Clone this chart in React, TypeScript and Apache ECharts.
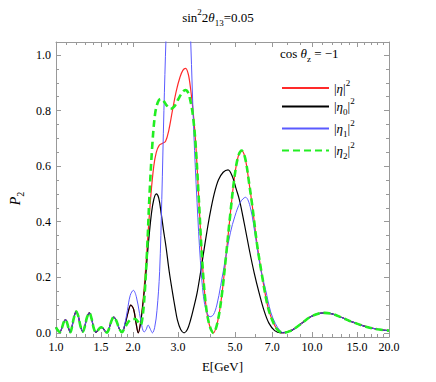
import React, { useEffect, useRef } from 'react';
import * as echarts from 'echarts';

const X_MAJOR = [1, 1.5, 2, 3, 5, 7, 10, 15, 20];
const X_MINOR = [1.1, 1.2, 1.3, 1.4, 1.6, 1.7, 1.8, 1.9, 4, 6, 8, 9, 11, 12, 13, 14, 16, 17, 18, 19];
const Y_MAJOR = [0, 0.2, 0.4, 0.6, 0.8, 1.0];
const Y_MINOR = [0.05, 0.1, 0.15, 0.25, 0.3, 0.35, 0.45, 0.5, 0.55, 0.65, 0.7, 0.75, 0.85, 0.9, 0.95];

// shared low-energy part (all curves coincide)
const E_LOW = [1.0, 1.017, 1.035, 1.055, 1.072, 1.089, 1.105, 1.12, 1.138, 1.155, 1.175, 1.2, 1.222, 1.248, 1.273, 1.295, 1.322, 1.35, 1.378, 1.405, 1.431, 1.455, 1.48, 1.505, 1.53, 1.555, 1.581, 1.61, 1.645, 1.682, 1.72, 1.765, 1.81];
const P_LOW = [0.02, 0.009, 0.003, 0.018, 0.038, 0.048, 0.036, 0.016, 0.002, 0.022, 0.055, 0.077, 0.06, 0.022, 0.004, 0.022, 0.056, 0.072, 0.05, 0.016, 0.002, 0.008, 0.017, 0.02, 0.015, 0.006, 0.001, 0.014, 0.042, 0.057, 0.044, 0.016, 0.002];

// |eta|^2
const E_RED = [1.86, 1.91, 1.96, 2.01, 2.055, 2.096, 2.14, 2.19, 2.24, 2.29, 2.35, 2.41, 2.465, 2.53, 2.6, 2.68, 2.76, 2.85, 2.95, 3.05, 3.13, 3.21, 3.29, 3.36, 3.43, 3.51, 3.61, 3.72, 3.84, 3.97, 4.12, 4.28, 4.45, 4.62, 4.8, 4.98, 5.15, 5.31, 5.48, 5.68, 5.86, 6.1, 6.4, 6.7, 7.0, 7.35, 7.75];
const P_RED = [0.03, 0.072, 0.1, 0.085, 0.035, 0.0, 0.04, 0.12, 0.23, 0.36, 0.5, 0.6, 0.65, 0.675, 0.682, 0.69, 0.73, 0.8, 0.87, 0.92, 0.945, 0.952, 0.93, 0.875, 0.8, 0.69, 0.49, 0.27, 0.11, 0.03, 0.0, 0.04, 0.14, 0.28, 0.43, 0.56, 0.635, 0.656, 0.63, 0.54, 0.45, 0.32, 0.2, 0.1, 0.045, 0.01, 0.0];

// |eta0|^2
const E_BLACK = [1.86, 1.91, 1.96, 2.01, 2.055, 2.096, 2.14, 2.19, 2.24, 2.29, 2.36, 2.41, 2.465, 2.52, 2.576, 2.63, 2.69, 2.77, 2.855, 2.92, 2.98, 3.07, 3.165, 3.26, 3.357, 3.45, 3.557, 3.66, 3.77, 3.88, 4.0, 4.15, 4.31, 4.5, 4.7, 4.9, 5.05, 5.21, 5.45, 5.69, 5.95, 6.22, 6.5, 6.79, 7.15, 7.55];
const P_BLACK = [0.03, 0.072, 0.1, 0.085, 0.035, 0.0, 0.035, 0.11, 0.2, 0.31, 0.43, 0.48, 0.5, 0.485, 0.43, 0.37, 0.31, 0.22, 0.143, 0.09, 0.047, 0.012, 0.0, 0.012, 0.047, 0.09, 0.143, 0.21, 0.287, 0.36, 0.43, 0.5, 0.55, 0.578, 0.587, 0.56, 0.52, 0.478, 0.39, 0.3, 0.215, 0.143, 0.08, 0.035, 0.008, 0.0];

// |eta1|^2
const E_BLUE = [1.85, 1.9, 1.95, 2.006, 2.06, 2.12, 2.17, 2.21, 2.25, 2.29, 2.34, 2.38, 2.43, 2.48, 2.54, 2.59, 2.64, 2.69, 2.76, 2.9, 3.05, 3.2, 3.3, 3.36, 3.455, 3.557, 3.665, 3.77, 3.88, 4.0, 4.12, 4.25, 4.4, 4.6, 4.8, 5.0, 5.25, 5.5, 5.75, 6.04, 6.3, 6.59, 6.9, 7.2, 7.5, 7.75];
const P_BLUE = [0.025, 0.08, 0.135, 0.153, 0.13, 0.07, 0.02, 0.003, 0.012, 0.028, 0.012, 0.0, 0.02, 0.08, 0.22, 0.48, 0.8, 1.06, 1.35, 1.75, 1.85, 1.6, 1.25, 1.05, 0.72, 0.47, 0.26, 0.13, 0.075, 0.058, 0.065, 0.1, 0.17, 0.27, 0.36, 0.42, 0.47, 0.488, 0.45, 0.335, 0.23, 0.155, 0.075, 0.033, 0.008, 0.0];

// |eta2|^2
const E_GREEN = [1.86, 1.92, 1.98, 2.04, 2.09, 2.14, 2.18, 2.22, 2.27, 2.32, 2.38, 2.44, 2.5, 2.56, 2.63, 2.71, 2.8, 2.9, 3.0, 3.1, 3.2, 3.28, 3.36, 3.43, 3.51, 3.61, 3.72, 3.84, 3.97, 4.12, 4.28, 4.45, 4.62, 4.8, 4.98, 5.15, 5.31, 5.48, 5.68, 5.86, 6.1, 6.4, 6.7, 7.0, 7.35, 7.75];
const P_GREEN = [0.02, 0.04, 0.05, 0.05, 0.04, 0.028, 0.06, 0.14, 0.3, 0.5, 0.68, 0.79, 0.83, 0.842, 0.835, 0.818, 0.806, 0.815, 0.84, 0.862, 0.874, 0.865, 0.83, 0.78, 0.68, 0.49, 0.27, 0.11, 0.03, 0.0, 0.04, 0.14, 0.28, 0.43, 0.56, 0.635, 0.656, 0.63, 0.54, 0.45, 0.32, 0.2, 0.1, 0.045, 0.01, 0.0];

// shared high-energy tail
const E_TAIL = [8.2, 8.7, 9.2, 9.8, 10.5, 11.2, 12.0, 13.0, 14.3, 16.0, 18.0, 20.0];
const P_TAIL = [0.006, 0.02, 0.037, 0.056, 0.068, 0.072, 0.068, 0.056, 0.04, 0.024, 0.013, 0.008];

const NAMES = ['|η|²', '|η0|²', '|η1|²', '|η2|²'];
const LEGEND_RICH: Record<string, string> = {
  '|η|²': '{t||}{i|η}{t||}{sup|2}',
  '|η0|²': '{t||}{i|η}{sub|0}{t||}{sup|2}',
  '|η1|²': '{t||}{i|η}{sub|1}{t||}{sup|2}',
  '|η2|²': '{t||}{i|η}{sub|2}{t||}{sup|2}',
};

const FONT = "'Liberation Serif', 'Times New Roman', serif";
const FRAME = '#999999';
const X_MAX_LOG = Math.log10(20);

const richStyles = (size: number) => ({
  t: { fontFamily: FONT, fontSize: size, fontWeight: 'normal', color: '#000', lineHeight: 20 },
  i: { fontFamily: FONT, fontSize: size, fontWeight: 'normal', fontStyle: 'italic', color: '#000', lineHeight: 20 },
  sup: { fontFamily: FONT, fontSize: Math.round(size * 0.7), fontWeight: 'normal', color: '#000', verticalAlign: 'top', lineHeight: 10 },
  sub: { fontFamily: FONT, fontSize: Math.round(size * 0.7), fontWeight: 'normal', color: '#000', verticalAlign: 'bottom', lineHeight: 10 },
});

function pairs(...parts: [number[], number[]][]) {
  const out: [number, number][] = [];
  parts.forEach(([es, ps]) => es.forEach((e, i) => out.push([Math.log10(e), ps[i]])));
  return out;
}

function xAxis(position: string, values: number[], len: number, labels: boolean, line: boolean, extra: any = {}) {
  return {
    type: 'value',
    position,
    min: 0,
    max: X_MAX_LOG,
    axisLine: { show: line, onZero: false, lineStyle: { color: FRAME, width: 1 } },
    axisTick: { show: true, inside: true, length: len, customValues: values.map((v) => Math.log10(v)), lineStyle: { color: FRAME, width: 1 } },
    axisLabel: labels
      ? {
          show: true,
          interval: 0,
          hideOverlap: false,
          showMinLabel: true,
          showMaxLabel: true,
          customValues: values.map((v) => Math.log10(v)),
          formatter: (v: number) => Math.pow(10, v).toFixed(1),
          margin: 4,
          color: '#000',
          fontFamily: FONT,
          fontSize: 12,
        }
      : { show: false },
    splitLine: { show: false },
    ...extra,
  };
}

function yAxis(position: string, values: number[], len: number, labels: boolean, line: boolean, extra: any = {}) {
  return {
    type: 'value',
    position,
    min: -0.015,
    max: 1.047,
    axisLine: { show: line, onZero: false, lineStyle: { color: FRAME, width: 1 } },
    axisTick: { show: true, inside: true, length: len, customValues: values, lineStyle: { color: FRAME, width: 1 } },
    axisLabel: labels
      ? {
          show: true,
          interval: 0,
          hideOverlap: false,
          customValues: values,
          formatter: (v: number) => v.toFixed(1),
          margin: 5,
          color: '#000',
          fontFamily: FONT,
          fontSize: 12,
        }
      : { show: false },
    splitLine: { show: false },
    ...extra,
  };
}

export default function App() {
  const ref = useRef<HTMLDivElement>(null);
  useEffect(() => {
    if (!ref.current) return;
    const chart = echarts.init(ref.current, null, { renderer: 'svg' });
    const lineSeries = (name: string, data: [number, number][], color: string, width: number, type: any = 'solid') => ({
      name,
      type: 'line',
      data,
      xAxisIndex: 0,
      yAxisIndex: 0,
      showSymbol: false,
      symbol: 'none',
      smooth: 0.35,
      clip: true,
      lineStyle: { color, width, type },
      itemStyle: { color },
    });
    chart.setOption({
      animation: false,
      backgroundColor: '#ffffff',
      title: {
        text: '{t|sin}{sup|2}{t|2}{i|θ}{sub|13}{t|=0.05}',
        left: 'center',
        top: 2,
        textStyle: { fontWeight: 'normal', rich: richStyles(13) },
      },
      grid: { left: 49, right: 47, top: 42, bottom: 45 },
      xAxis: [
        xAxis('bottom', X_MAJOR, 5, true, true, {
          name: 'E[GeV]',
          nameLocation: 'middle',
          nameGap: 23,
          nameTextStyle: { fontFamily: FONT, fontSize: 13, color: '#000' },
        }),
        xAxis('bottom', X_MINOR, 3, false, false),
        xAxis('top', X_MAJOR, 5, false, true),
        xAxis('top', X_MINOR, 3, false, false),
      ],
      yAxis: [
        yAxis('left', Y_MAJOR, 5, true, true, {
          name: '{i|P}{sub|2}',
          nameLocation: 'middle',
          nameRotate: 90,
          nameGap: 31,
          nameTextStyle: { rich: richStyles(14), padding: [0, 18, 0, 0] },
        }),
        yAxis('left', Y_MINOR, 3, false, false),
        yAxis('right', Y_MAJOR, 5, false, true),
        yAxis('right', Y_MINOR, 3, false, false),
      ],
      legend: {
        data: NAMES,
        orient: 'vertical',
        left: 276,
        top: 73,
        itemWidth: 47,
        itemHeight: 14,
        itemGap: 2,
        itemStyle: { opacity: 0 },
        formatter: (name: string) => LEGEND_RICH[name],
        textStyle: { rich: richStyles(13) },
      },
      graphic: [
        {
          type: 'text',
          left: 280,
          top: 47,
          style: {
            text: '{t|cos }{i|θ}{sub|z}{t| = −1}',
            rich: richStyles(13),
          },
        },
      ],
      series: [
        lineSeries(NAMES[0], pairs([E_LOW, P_LOW], [E_RED, P_RED], [E_TAIL, P_TAIL]), '#ff2a2a', 1.2),
        lineSeries(NAMES[1], pairs([E_LOW, P_LOW], [E_BLACK, P_BLACK], [E_TAIL, P_TAIL]), '#000000', 1.2),
        lineSeries(NAMES[2], pairs([E_LOW, P_LOW], [E_BLUE, P_BLUE], [E_TAIL, P_TAIL]), '#5a5aff', 1.0),
        lineSeries(NAMES[3], pairs([E_LOW, P_LOW], [E_GREEN, P_GREEN], [E_TAIL, P_TAIL]), '#22ee22', 2.6, [7, 4]),
      ],
    });
    return () => chart.dispose();
  }, []);
  return <div ref={ref} style={{ width: 436, height: 382, margin: -8 }} />;
}
